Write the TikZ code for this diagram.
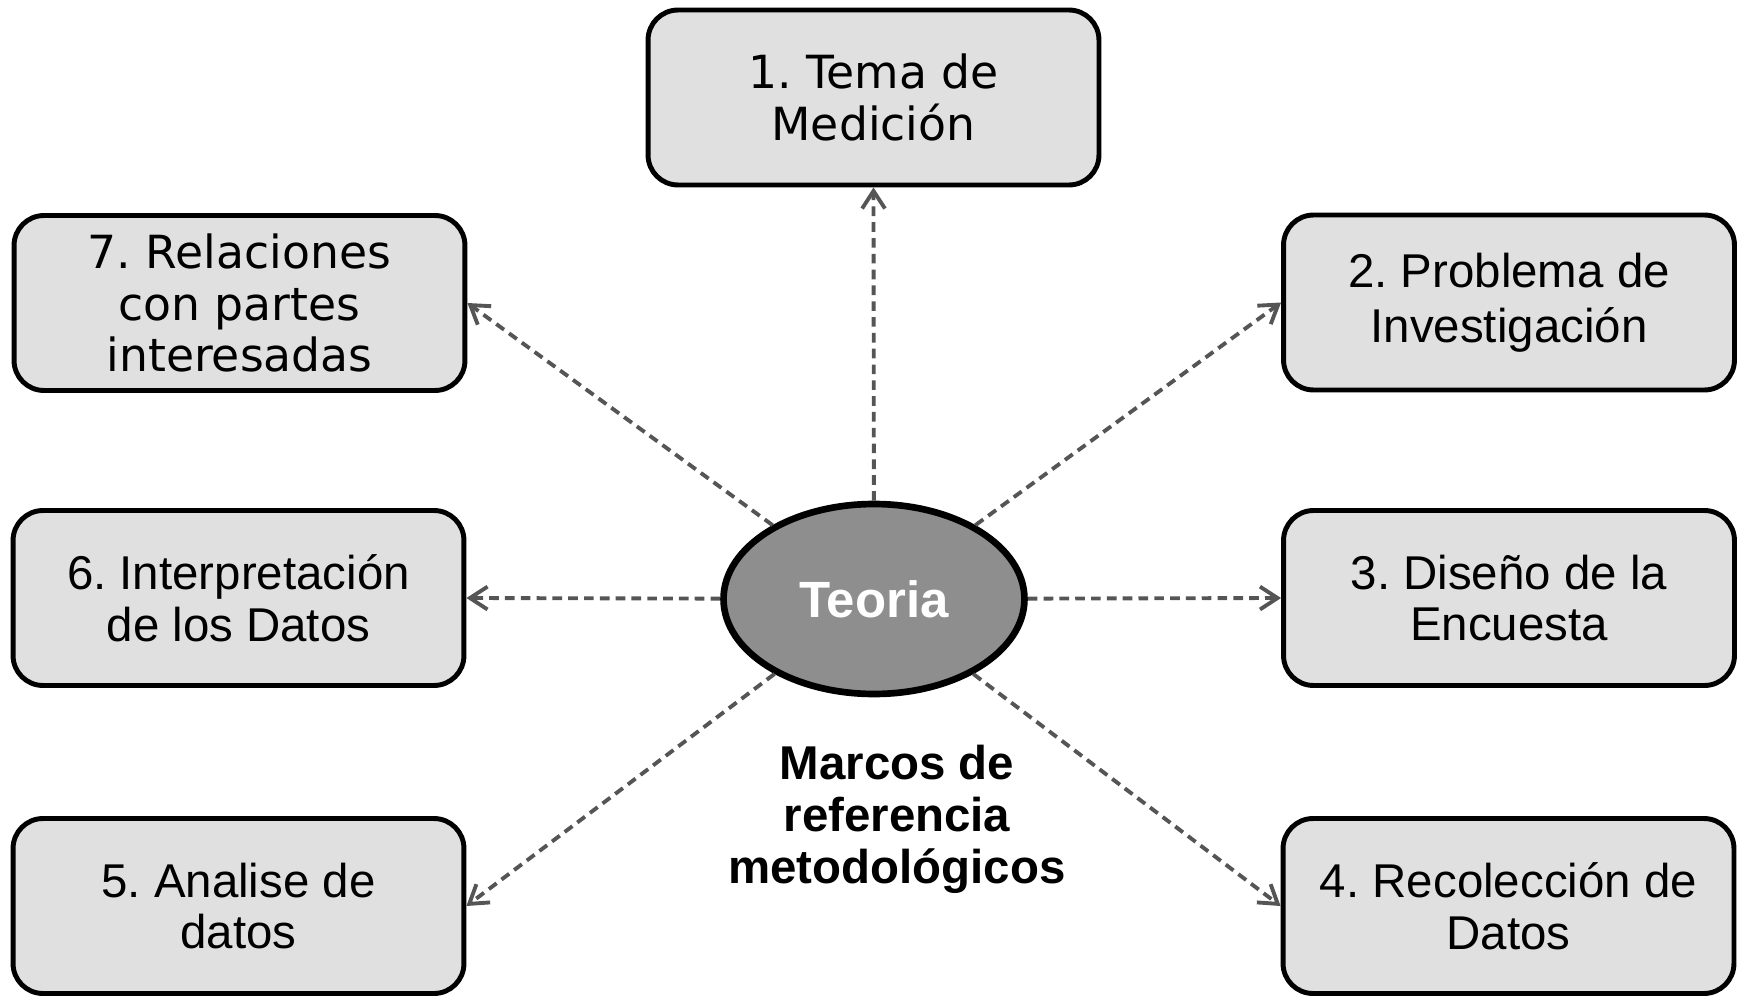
\documentclass[tikz,border=0pt]{standalone}
\usepackage{fontspec}
\setmainfont{Liberation Sans}
\newfontfamily\verd{DejaVu Sans}
\usetikzlibrary{shapes.geometric,arrows.meta}
\frenchspacing
\definecolor{boxfill}{HTML}{E0E0E0}
\definecolor{elfill}{HTML}{8E8E8E}
\definecolor{arrcol}{HTML}{555555}
\tikzset{
  stagebox/.style={draw=black, line width=2.8pt, fill=boxfill, rounded corners=0.6cm,
    minimum width=9.02cm, minimum height=3.5cm, align=center, inner sep=0pt,
    font=\frenchspacing\fontsize{27}{29.5}\selectfont},
  verdbox/.style={stagebox, font=\frenchspacing\verd\fontsize{26}{29.5}\selectfont},
  link/.style={draw=arrcol, line width=2.2pt, dash pattern=on 5.5pt off 3.5pt,
    -{Straight Barb[length=10pt,width=13pt,line width=2.2pt]}},
}
\begin{document}
\begin{tikzpicture}[x=0.02cm,y=-0.02cm]
\useasboundingbox (0,0) rectangle (1742,997);
\node[verdbox] (b1) at (873.5,97.5) {1. Tema de\\Medición};
\node[verdbox] (b7) at (239.5,303) {7. Relaciones\\con partes\\interesadas};
\node[stagebox] (b2) at (1509,302.5) {2. Problema de\\[2pt]Investigación};
\node[stagebox] (b6) at (238.5,598) {6. Interpretación\\de los Datos};
\node[stagebox] (b3) at (1509,598) {3. Diseño de la\\Encuesta};
\node[stagebox] (b5) at (238.5,906) {5. Analise de\\datos};
\node[stagebox] (b4) at (1508.5,906) {4. Recolección de\\Datos};
\node[ellipse, draw=black, line width=3.8pt, fill=elfill, minimum width=6.02cm,
  minimum height=3.8cm, inner sep=0pt, text=white,
  font=\bfseries\fontsize{29}{32}\selectfont] (teo) at (874,599) {Teoria};
\node[align=center, font=\bfseries\fontsize{27}{29.6}\selectfont] (marcos) at (897,819)
  {Marcos de\\referencia\\metodológicos};
\draw[link] (teo) -- (b1.south);
\draw[link] (teo) -- (b7.east);
\draw[link] (teo) -- (b2.west);
\draw[link] (teo) -- (b6.east);
\draw[link] (teo) -- (b3.west);
\draw[link] (teo) -- (b5.east);
\draw[link] (teo) -- (b4.west);
\end{tikzpicture}
\end{document}
